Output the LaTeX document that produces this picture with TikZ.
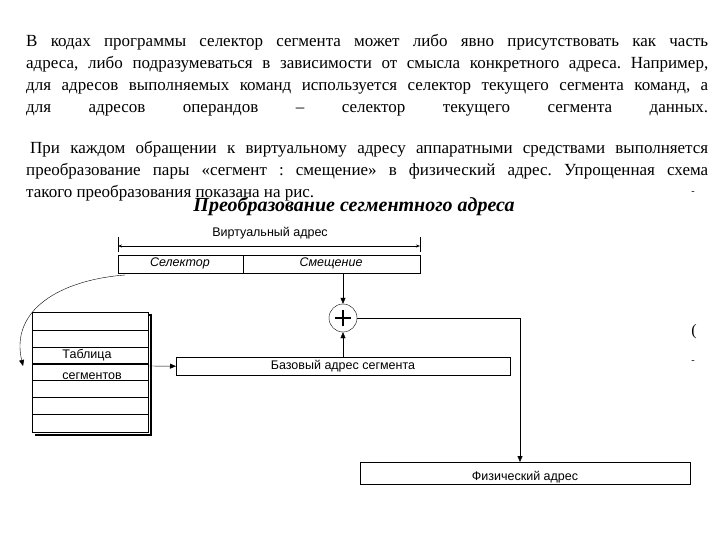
\documentclass[tikz,border=0pt]{standalone}
\usepackage{fontspec}
\setmainfont{Liberation Serif}
\newfontfamily\lsans{Liberation Sans}
\usetikzlibrary{arrows.meta}
\frenchspacing
\begin{document}
\begin{tikzpicture}[x=1pt,y=-1pt,
  lbl/.style={font=\lsans\fontsize{12.5}{13}\selectfont,inner sep=0pt},
  bx/.style={draw,thick,minimum height=18pt,inner sep=0pt},
  arr/.style={-{Triangle[length=6pt,width=5pt]}}]
\useasboundingbox[fill=white] (0,0) rectangle (720,540);
\node[anchor=north west,inner sep=0pt,text width=682pt,align=justify,font=\fontsize{17}{22}\selectfont] (p1) at (26,34)
{{\frenchspacing\parfillskip=0pt В кодах программы селектор сегмента может либо явно присутствовать как часть\linebreak адреса, либо подразумеваться в зависимости от смысла конкретного адреса. Например,\linebreak для адресов выполняемых команд используется селектор текущего сегмента команд, а\linebreak для адресов операндов – селектор текущего сегмента данных.\par}};
\node[anchor=north west,inner sep=0pt,text width=682pt,align=justify,font=\fontsize{17}{22}\selectfont] (p2) at (26,141)
{\frenchspacing\hspace*{4pt}При каждом обращении к виртуальному адресу аппаратными средствами выполняется\linebreak преобразование пары «сегмент : смещение» в физический адрес. Упрощенная схема\linebreak такого преобразования показана на рис.};
\node[font=\bfseries\itshape\fontsize{20}{22}\selectfont,inner sep=0pt] (title) at (354,206) {Преобразование сегментного адреса};
% virtual address
\node[lbl] (va) at (270,233) {Виртуальный адрес};
\draw (118,237) -- (118,252) (420,237) -- (420,252);
\coordinate (dl) at (118,246); \coordinate (dr) at (420,246);
\draw[thick,{Stealth[length=4pt]}-{Stealth[length=4pt]}] (dl) -- (dr);
\node[bx,minimum width=125pt,anchor=north west] (sel) at (118,255) {};
\node[bx,minimum width=177pt,anchor=north west] (off) at (243,255) {};
\node[lbl,font=\lsans\itshape\fontsize{12.5}{13}\selectfont] at (180,263) {Селектор};
\node[lbl,font=\lsans\itshape\fontsize{12.5}{13}\selectfont] at (331,263) {Смещение};
\draw[line width=1.6pt] (118,273.5) -- (420,273.5);
% plus
\node[draw,circle,minimum size=28pt,inner sep=0pt] (plus) at (343,318) {};
\draw[line width=1.2pt] (335,318) -- (351,318) (343,310) -- (343,326);
\draw[arr] (343,274) -- (plus.north);
% table
\draw[line width=2pt] (35,315) -- (151,315) -- (151,435) -- (35,435);
\node[draw,thick,fill=white,minimum width=116pt,minimum height=120pt,inner sep=0pt,anchor=north west] (tab) at (32,312) {};
\foreach \yy in {330,347,380,397,414} \draw (32,\yy) -- (148,\yy);
\draw[line width=1.4pt] (32,364) -- (148,364);
\node[lbl] at (87,355) {Таблица};
\node[lbl] at (92,376) {сегментов};
% base
\node[bx,thin,minimum width=334pt,anchor=north west] (base) at (176,357) {};
\node[lbl] at (343,366) {Базовый адрес сегмента};
\draw[arr] (148,366) -- (base.west);
\draw[arr] (343,357) -- (plus.south);
% phys
\node[bx,thin,minimum width=330pt,minimum height=22pt,anchor=north west] (phys) at (360,462) {};
\node[lbl] at (525,477) {Физический адрес};
\coordinate (c1) at (520,318);
\draw[arr] (plus.east) -- (c1) -- (phys.north -| c1);
% curve
\coordinate (cs) at (125,275);
\draw[arr] (cs) .. controls (60,280) and (10,310) .. (23,366);
% stray marks
\node[inner sep=0pt,font=\fontsize{10}{10}\selectfont] at (693,193) {-};
\node[inner sep=0pt,font=\fontsize{16}{16}\selectfont] at (694,332) {(};
\node[inner sep=0pt,font=\fontsize{10}{10}\selectfont] at (693,362) {-};
\end{tikzpicture}
\end{document}
